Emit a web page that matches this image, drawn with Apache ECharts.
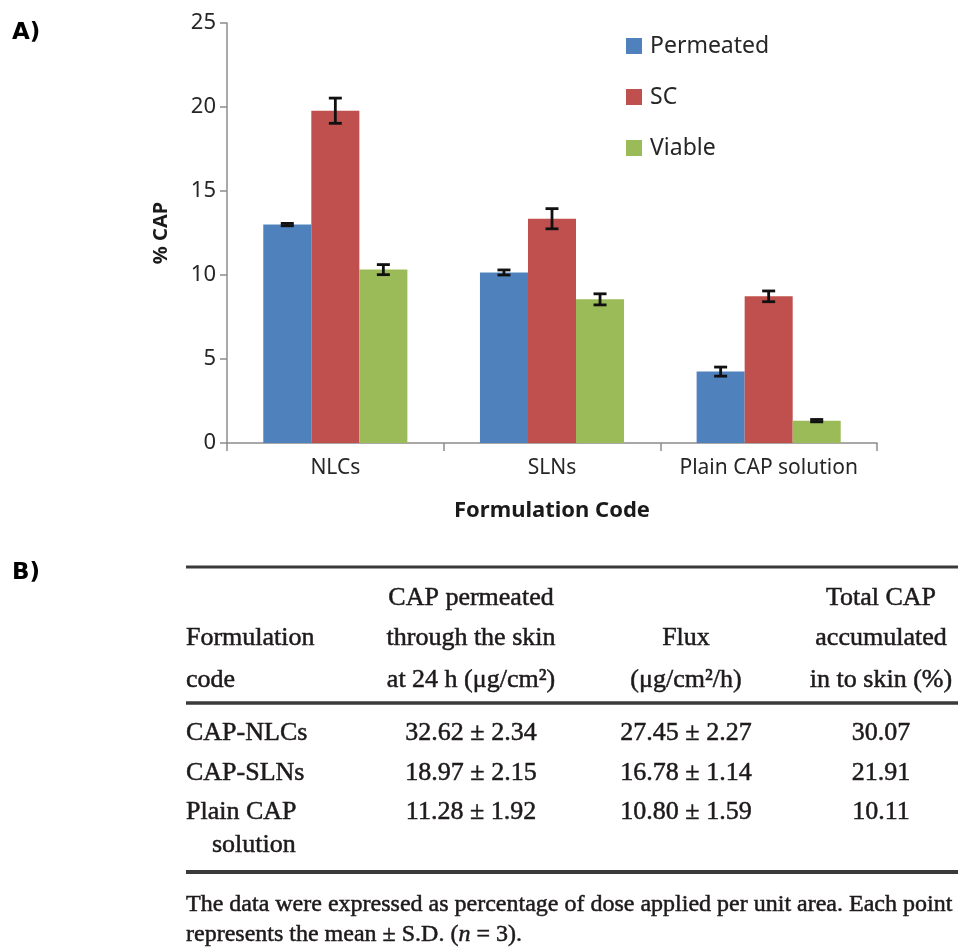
<!DOCTYPE html>
<html>
<head>
<meta charset="utf-8">
<script src="https://cdn.jsdelivr.net/npm/echarts@6/dist/echarts.min.js"></script>
<style>
html,body{margin:0;padding:0;background:#fff;}
#main{width:958px;height:948px;}
</style>
</head>
<body>
<div id="main"></div>
<script>
// ---- Data (panel A) ----
const categories = ['NLCs', 'SLNs', 'Plain CAP solution'];
const seriesNames = ['Permeated', 'SC', 'Viable'];
const permeated = [13.0, 10.15, 4.25];
const permeatedErr = [0.07, 0.15, 0.27];
const sc = [19.78, 13.35, 8.73];
const scErr = [0.75, 0.6, 0.32];
const viable = [10.32, 8.55, 1.33];
const viableErr = [0.3, 0.33, 0.07];
const yMin = 0, yMax = 25, yStep = 5;
const yName = '% CAP';
const xName = 'Formulation Code';

// ---- Data (panel B, table) ----
const tableHead1 = ['', 'CAP permeated', '', 'Total CAP'];
const tableHead2 = ['Formulation', 'through the skin', 'Flux', 'accumulated'];
const tableHead3 = ['code', 'at 24 h (μg/cm²)', '(μg/cm²/h)', 'in to skin (%)'];
const rowCodes = ['CAP-NLCs', 'CAP-SLNs', 'Plain CAP'];
const rowPermeated = ['32.62 ± 2.34', '18.97 ± 2.15', '11.28 ± 1.92'];
const rowFlux = ['27.45 ± 2.27', '16.78 ± 1.14', '10.80 ± 1.59'];
const rowTotal = ['30.07', '21.91', '10.11'];
const rowCodeCont = 'solution';
const footnote1 = 'The data were expressed as percentage of dose applied per unit area. Each point';
const footnote2a = 'represents the mean ± S.D. (';
const footnote2n = 'n';
const footnote2b = ' = 3).';

const colors = ['#4F81BD', '#C0504D', '#9BBB59'];
const values = [permeated, sc, viable];
const errors = [permeatedErr, scErr, viableErr];
const CAT_GAP = 0.335;

const chart = echarts.init(document.getElementById('main'), null, {renderer: 'canvas'});

const series = [];
seriesNames.forEach((name, i) => {
  series.push({
    name: name, type: 'bar', data: values[i],
    barGap: '0%', barCategoryGap: (CAT_GAP * 100) + '%',
    itemStyle: {color: colors[i]},
    emphasis: {disabled: true}
  });
});
seriesNames.forEach((name, i) => {
  series.push({
    type: 'custom',
    name: name + ' err',
    data: values[i].map((v, k) => [k, v, errors[i][k]]),
    z: 10,
    silent: true,
    renderItem: function (params, api) {
      const k = api.value(0), v = api.value(1), e = api.value(2);
      const band = api.size([1, 0])[0];
      const bw = band * (1 - CAT_GAP) / 3;
      const c = api.coord([k, v]);
      const cx = c[0] + (i - 1) * bw;
      const top = api.coord([k, v + e])[1];
      const bot = api.coord([k, v - e])[1];
      const hw = 6.5;
      const st = {stroke: '#111', lineWidth: 2.8};
      return {type: 'group', children: [
        {type: 'line', shape: {x1: cx, y1: top, x2: cx, y2: bot}, style: st},
        {type: 'line', shape: {x1: cx - hw, y1: top, x2: cx + hw, y2: top}, style: st},
        {type: 'line', shape: {x1: cx - hw, y1: bot, x2: cx + hw, y2: bot}, style: st}
      ]};
    }
  });
});

const serif = '"Liberation Serif", "DejaVu Serif", serif';
const tcol = '#1e1a1b';
function T(text, x, y, align, size) {
  return {type: 'text', x: x, y: y, z: 20,
    style: {text: text, font: (size || 26) + 'px ' + serif, fill: tcol,
      stroke: tcol, lineWidth: 0.5,
      align: align || 'center', verticalAlign: 'middle'}};
}
function rule(y, w) {
  return {type: 'line', z: 20, shape: {x1: 186, y1: y, x2: 958, y2: y},
    style: {stroke: '#3a3a3a', lineWidth: w || 3}};
}
const colX = [186, 471, 686, 881];
const colAlign = ['left', 'center', 'center', 'center'];
const graphics = [
  {type: 'text', x: 12, y: 33, z: 20, style: {text: 'A)', font: 'bold 23px "DejaVu Sans"', fill: '#000', align: 'left', verticalAlign: 'middle'}},
  {type: 'text', x: 12, y: 573, z: 20, style: {text: 'B)', font: 'bold 23px "DejaVu Sans"', fill: '#000', align: 'left', verticalAlign: 'middle'}},
  rule(567, 3), rule(703, 3.5), rule(872, 4)
];
[tableHead1, tableHead2, tableHead3].forEach((row, r) => {
  const y = [598, 638, 680][r];
  row.forEach((t, c) => { if (t) graphics.push(T(t, colX[c], y, colAlign[c])); });
});
rowCodes.forEach((code, r) => {
  const y = [733, 773, 812][r];
  graphics.push(T(code, colX[0], y, 'left'));
  graphics.push(T(rowPermeated[r], colX[1], y));
  graphics.push(T(rowFlux[r], colX[2], y));
  graphics.push(T(rowTotal[r], colX[3], y));
});
graphics.push(T(rowCodeCont, 212, 845, 'left'));
graphics.push(T(footnote1, 186, 905, 'left', 24));
graphics.push({type: 'text', x: 186, y: 935, z: 20, style: {
  text: '{a|' + footnote2a + '}{i|' + footnote2n + '}{a|' + footnote2b + '}',
  align: 'left', verticalAlign: 'middle',
  fill: tcol, stroke: tcol, lineWidth: 0.5,
  rich: {
    a: {font: '24px ' + serif, fill: tcol, stroke: tcol, lineWidth: 0.5},
    i: {font: 'italic 24px ' + serif, fill: tcol, stroke: tcol, lineWidth: 0.5}
  }
}});

const sans = '"Noto Sans", "Open Sans", sans-serif';
const axisTxt = '#262626';
chart.setOption({
  animation: false,
  backgroundColor: '#ffffff',
  legend: {
    data: seriesNames, orient: 'vertical', left: 626, top: 33, padding: 0,
    itemWidth: 16, itemHeight: 16, itemGap: 25, icon: 'rect',
    textStyle: {fontFamily: sans, fontSize: 23, color: axisTxt, lineHeight: 26, padding: [0, 0, 0, 3]},
    selectedMode: false
  },
  grid: {left: 227, right: 81, top: 23, bottom: 505, containLabel: false},
  xAxis: {
    type: 'category', data: categories,
    name: xName, nameLocation: 'middle', nameGap: 57,
    nameTextStyle: {fontFamily: sans, fontSize: 22, fontWeight: 'bold', color: '#1a1a1a'},
    axisLine: {lineStyle: {color: '#8c8c8c', width: 1.5}},
    axisTick: {show: true, length: 8, lineStyle: {color: '#8c8c8c', width: 1.5}},
    axisLabel: {interval: 0, fontFamily: sans, fontSize: 21, color: axisTxt, margin: 15}
  },
  yAxis: {
    type: 'value', min: yMin, max: yMax, interval: yStep,
    name: yName, nameLocation: 'middle', nameGap: 56, nameRotate: 90,
    nameTextStyle: {fontFamily: sans, fontSize: 20, fontWeight: 'bold', color: '#1a1a1a'},
    axisLine: {show: true, lineStyle: {color: '#8c8c8c', width: 1.5}},
    axisTick: {show: true, length: 7, lineStyle: {color: '#8c8c8c', width: 1.5}},
    splitLine: {show: false},
    axisLabel: {fontFamily: sans, fontSize: 22, color: axisTxt, margin: 11}
  },
  series: series,
  graphic: graphics
});
</script>
</body>
</html>
